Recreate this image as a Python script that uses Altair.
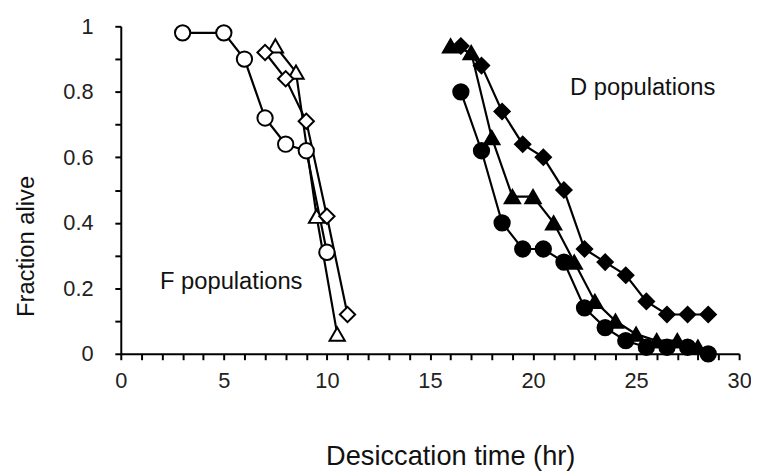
import altair as alt
import pandas as pd

# F populations (open markers)
f_circle_x = [3, 5, 6, 7, 8, 9, 10]
f_circle_y = [0.98, 0.98, 0.90, 0.72, 0.64, 0.62, 0.31]
f_tri_x = [7.5, 8.5, 9.5, 10.5]
f_tri_y = [0.94, 0.86, 0.42, 0.06]
f_dia_x = [7, 8, 9, 10, 11]
f_dia_y = [0.92, 0.84, 0.71, 0.42, 0.12]

# D populations (filled markers)
d_circle_x = [16.5, 17.5, 18.5, 19.5, 20.5, 21.5, 22.5, 23.5, 24.5, 25.5, 26.5, 27.5, 28.5]
d_circle_y = [0.80, 0.62, 0.40, 0.32, 0.32, 0.28, 0.14, 0.08, 0.04, 0.02, 0.02, 0.02, 0.0]
d_tri_x = [16, 17, 18, 19, 20, 21, 22, 23, 24, 25, 26, 27, 28]
d_tri_y = [0.94, 0.92, 0.66, 0.48, 0.48, 0.40, 0.28, 0.16, 0.10, 0.06, 0.04, 0.04, 0.02]
d_dia_x = [16.5, 17.5, 18.5, 19.5, 20.5, 21.5, 22.5, 23.5, 24.5, 25.5, 26.5, 27.5, 28.5]
d_dia_y = [0.94, 0.88, 0.74, 0.64, 0.60, 0.50, 0.32, 0.28, 0.24, 0.16, 0.12, 0.12, 0.12]

series_names = ["F circle", "F triangle", "F diamond", "D circle", "D triangle", "D diamond"]
series_shapes = ["circle", "triangle-up", "diamond", "circle", "triangle-up", "diamond"]
series_fills = ["white", "white", "white", "black", "black", "black"]

x_ticks = list(range(0, 31))
y_ticks = [i / 10 for i in range(0, 11)]

label_text = ["D populations", "F populations"]
label_x = [21.8, 1.9]
label_y = [0.81, 0.22]

rows = []
for name, xs, ys in [
    ("F circle", f_circle_x, f_circle_y),
    ("F triangle", f_tri_x, f_tri_y),
    ("F diamond", f_dia_x, f_dia_y),
    ("D circle", d_circle_x, d_circle_y),
    ("D triangle", d_tri_x, d_tri_y),
    ("D diamond", d_dia_x, d_dia_y),
]:
    for xv, yv in zip(xs, ys):
        rows.append({"x": xv, "y": yv, "series": name})
df = pd.DataFrame(rows)
labels_df = pd.DataFrame({"text": label_text, "x": label_x, "y": label_y})

font = "Liberation Sans"

x_enc = alt.X(
    "x:Q",
    scale=alt.Scale(domain=[0, 30], nice=False, zero=False),
    axis=alt.Axis(
        values=x_ticks,
        tickCount=31,
        labelExpr="datum.value % 5 == 0 ? format(datum.value, 'd') : ''",
        title="Desiccation time (hr)",
        grid=False,
        domainColor="black",
        domainWidth=2,
        tickColor="black",
        tickWidth=2,
        tickSize=6,
        labelFont=font,
        labelFontSize=22,
        labelColor="#222",
        labelPadding=11,
        labelFlush=False,
        labelOverlap=False,
        titleFont=font,
        titleFontSize=27.5,
        titleFontWeight="normal",
        titleColor="#111",
        titleX=333,
        titleY=104,
        titleAlign="center",
        titleBaseline="middle",
    ),
)
y_enc = alt.Y(
    "y:Q",
    scale=alt.Scale(domain=[0, 1], nice=False),
    axis=alt.Axis(
        values=y_ticks,
        tickCount=11,
        labelExpr="round(datum.value * 10) % 2 == 0 ? format(datum.value, '.1~f') : ''",
        title="Fraction alive",
        grid=False,
        domainColor="black",
        domainWidth=2,
        tickColor="black",
        tickWidth=2,
        tickSize=6,
        labelFont=font,
        labelFontSize=22,
        labelColor="#222",
        labelPadding=22,
        labelFlush=False,
        labelOverlap=False,
        titleFont=font,
        titleFontSize=24,
        titleFontWeight="normal",
        titleColor="#111",
        titleX=-95,
        titleY=222,
        titleAlign="center",
        titleBaseline="middle",
    ),
)

base = alt.Chart(df)
lines = base.mark_line(color="black", strokeWidth=2.2).encode(
    x=x_enc, y=y_enc, detail="series:N", order="x:Q"
)
points = base.mark_point(filled=False, stroke="black", strokeWidth=2, opacity=1).encode(
    x="x:Q",
    y="y:Q",
    shape=alt.Shape("series:N", scale=alt.Scale(domain=series_names, range=series_shapes), legend=None),
    fill=alt.Fill("series:N", scale=alt.Scale(domain=series_names, range=series_fills), legend=None),
    size=alt.value(240),
)
texts = alt.Chart(labels_df).mark_text(
    align="left", baseline="middle", font=font, fontSize=24, color="#111"
).encode(x="x:Q", y="y:Q", text="text:N")

chart = (
    alt.layer(lines, points, texts)
    .properties(
        width=625,
        height=331,
        autosize=alt.AutoSizeParams(type="none"),
        padding={"left": 114, "top": 16, "right": 12, "bottom": 119},
        background="white",
    )
    .configure_view(stroke=None)
)

chart.save("out.html", embed_options={"renderer": "svg", "actions": False})
